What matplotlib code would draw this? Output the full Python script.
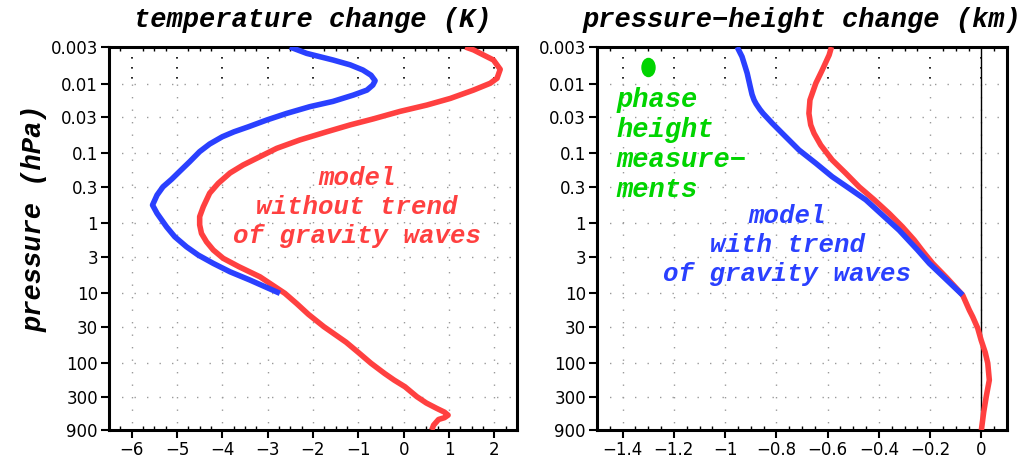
import matplotlib
matplotlib.use("Agg")
import matplotlib.pyplot as plt
from matplotlib.ticker import FixedLocator, MultipleLocator
from matplotlib.path import Path
from matplotlib.transforms import Affine2D

# ---------------- data ----------------
p_ticks = [0.003, 0.01, 0.03, 0.1, 0.3, 1, 3, 10, 30, 100, 300, 900]
p_labels = ["0.003", "0.01", "0.03", "0.1", "0.3", "1", "3", "10", "30", "100", "300", "900"]

t_xticks = [-6, -5, -4, -3, -2, -1, 0, 1, 2]
t_xlabels = ["\u22126", "\u22125", "\u22124", "\u22123", "\u22122", "\u22121", "0", "1", "2"]
h_xticks = [-1.4, -1.2, -1.0, -0.8, -0.6, -0.4, -0.2, 0.0]
h_xlabels = ["\u22121.4", "\u22121.2", "\u22121", "\u22120.8", "\u22120.6", "\u22120.4", "\u22120.2", "0"]

# temperature change, model with trend of gravity waves (blue)
temp_blue_p = [0.003, 0.0037, 0.0046, 0.0054, 0.0064, 0.0076, 0.0091, 0.0105, 0.0124,
               0.0146, 0.018, 0.0214, 0.0267, 0.0332, 0.0414, 0.0489, 0.0576, 0.0732,
               0.094, 0.131, 0.18, 0.234, 0.30, 0.393, 0.546, 0.718, 1.12, 1.55, 2.16,
               2.84, 3.73, 4.92, 6.46, 10.0]
temp_blue_x = [-2.51, -2.14, -1.56, -1.18, -0.90, -0.72, -0.63, -0.68, -0.81,
               -1.11, -1.56, -2.07, -2.58, -3.02, -3.42, -3.74, -4.00, -4.28,
               -4.50, -4.72, -4.94, -5.12, -5.31, -5.44, -5.54, -5.44, -5.23, -5.05, -4.79,
               -4.53, -4.20, -3.83, -3.39, -2.73]

# temperature change, model without trend of gravity waves (red)
temp_red_p = [0.003, 0.0033, 0.0039, 0.0046, 0.00626, 0.0084, 0.0099, 0.0124, 0.0163,
              0.0203, 0.025, 0.032, 0.039, 0.049, 0.064, 0.0844, 0.111, 0.146, 0.19,
              0.267, 0.37, 0.578, 0.80, 1.05, 1.39, 1.83, 2.4, 3.16, 4.17, 5.8, 10,
              14, 20, 30, 50, 70, 100, 140, 174, 217, 300, 370, 442, 500, 552, 600,
              636, 767, 900]
temp_red_x = [1.36, 1.54, 1.76, 1.98, 2.13, 2.06, 1.91, 1.54, 1.03,
              0.51, -0.08, -0.67, -1.18, -1.70, -2.29, -2.80, -3.17, -3.54, -3.83,
              -4.09, -4.28, -4.42, -4.50, -4.50, -4.46, -4.35, -4.20, -3.98, -3.63, -3.17, -2.62,
              -2.36, -2.10, -1.76, -1.27, -1.00, -0.72, -0.42, -0.21, 0.03, 0.29, 0.50,
              0.73, 0.90, 0.98, 0.90, 0.77, 0.66, 0.62]

# pressure-height change, model with trend (blue)
ph_blue_p = [0.003, 0.00413, 0.0057, 0.0071, 0.0111, 0.0143, 0.0172, 0.0195, 0.0235,
             0.0267, 0.037, 0.0515, 0.089, 0.138, 0.215, 0.315, 0.46, 0.759, 1.25, 2.4,
             3.73, 10.6]
ph_blue_x = [-0.953, -0.934, -0.922, -0.914, -0.902, -0.895, -0.887, -0.879, -0.864,
             -0.852, -0.816, -0.777, -0.712, -0.646, -0.582, -0.516, -0.451, -0.386, -0.321, -0.249,
             -0.203, -0.073]

# pressure-height change, model without trend (red)
ph_red_p = [0.003, 0.0039, 0.0064, 0.0099, 0.0172, 0.0267, 0.039, 0.0515, 0.0757,
            0.124, 0.192, 0.30, 0.46, 0.72, 1.12, 1.73, 2.6, 3.73, 6.0, 10.6, 17.4, 21.6,
            31.7, 46.6, 70, 100, 174, 300, 500, 900]
ph_red_x = [-0.585, -0.594, -0.621, -0.646, -0.669, -0.673, -0.666, -0.653, -0.627,
            -0.582, -0.529, -0.477, -0.418, -0.360, -0.308, -0.262, -0.225, -0.190, -0.135, -0.073,
            -0.047, -0.034, -0.014, -0.001, 0.015, 0.025, 0.031, 0.019, 0.009, 0.0]

# phase height measurement
meas_x = [-1.30]
meas_p = [0.00585]

RED = "#ff4040"
BLUE = "#2a40ff"
GREEN = "#00d400"

TFONT = dict(family=["Liberation Mono", "DejaVu Sans Mono"], weight="bold", style="italic")

W, H = 1027, 459
fig = plt.figure(figsize=(W / 100, H / 100), dpi=100)

ax1 = fig.add_axes([109 / W, 1 - 430 / H, 408 / W, 383 / H])
ax2 = fig.add_axes([597 / W, 1 - 430 / H, 410 / W, 383 / H])


def style_axes(ax, xticks, xlabels, xlim, minor_step):
    ax.set_yscale("log")
    ax.set_ylim(900, 0.003)
    ax.set_xlim(*xlim)
    ax.yaxis.set_major_locator(FixedLocator(p_ticks))
    ax.yaxis.set_minor_locator(FixedLocator([]))
    ax.set_yticklabels(p_labels)
    ax.set_xticks(xticks)
    ax.set_xticklabels(xlabels)
    ax.xaxis.set_minor_locator(MultipleLocator(minor_step))
    ax.tick_params(axis="both", which="major", direction="out", length=6, width=1.5,
                   labelsize=12, pad=2, top=False, right=False)
    ax.tick_params(axis="x", which="minor", direction="in", length=3, width=1,
                   top=True, bottom=True)
    for s in ax.spines.values():
        s.set_linewidth(2.2)
    # dotted grid
    for xv in xticks:
        ax.plot([xv, xv], [0.01, 900], ls=(0, (1, 8)), color="#9a9a9a", lw=1, zorder=1)
        ax.plot([xv, xv], [0.003, 0.01], ls=(0, (1, 5)), color="black", lw=1.2, zorder=1)
    for pv in p_ticks[1:-1]:
        ax.axhline(pv, ls=(0, (1, 8)), color="#9a9a9a", lw=1, zorder=1)


style_axes(ax1, t_xticks, t_xlabels, (-6.5, 2.5), 0.25)
style_axes(ax2, h_xticks, h_xlabels, (-1.5, 0.1), 0.05)

ax1.plot(temp_red_x, temp_red_p, color=RED, lw=4, solid_capstyle="butt",
         solid_joinstyle="round", zorder=3)
ax1.plot(temp_blue_x, temp_blue_p, color=BLUE, lw=4, solid_capstyle="butt",
         solid_joinstyle="round", zorder=4)

ax2.axvline(0, color="black", lw=1, zorder=2)
ax2.plot(ph_red_x, ph_red_p, color=RED, lw=4, solid_capstyle="butt",
         solid_joinstyle="round", zorder=3)
ax2.plot(ph_blue_x, ph_blue_p, color=BLUE, lw=4, solid_capstyle="butt",
         solid_joinstyle="round", zorder=4)
ellipse = Path.unit_circle().transformed(Affine2D().scale(0.72, 1.0))
ax2.plot(meas_x, meas_p, ls="none", marker=ellipse, ms=13, color=GREEN, zorder=5)

# annotations
ax1.text(-1.03, 0.578, "model\nwithout trend\nof gravity waves", color=RED,
         ha="center", va="center", fontsize=18.5, linespacing=1.25, zorder=5, **TFONT)
ax2.text(-0.758, 2.04, "model\nwith trend\nof gravity waves", color=BLUE,
         ha="center", va="center", fontsize=18.5, linespacing=1.25, zorder=5, **TFONT)
ax2.text(-1.424, 0.0757, "phase\nheight\nmeasure\u2212\nments", color=GREEN,
         ha="left", va="center", fontsize=19.5, linespacing=1.2, zorder=5, **TFONT)

# titles and y label
fig.text((109 + 517) / 2 / W, 1 - 27 / H, "temperature change (K)", ha="center",
         va="baseline", fontsize=19.5, **TFONT)
fig.text((597 + 1007) / 2 / W, 1 - 27 / H, "pressure\u2212height change (km)", ha="center",
         va="baseline", fontsize=19.5, **TFONT)
fig.text(35 / W, 1 - 218 / H, "pressure (hPa)", ha="center", va="center", rotation=90,
         fontsize=19.5, **TFONT)

fig.savefig("out.png", dpi=100)
